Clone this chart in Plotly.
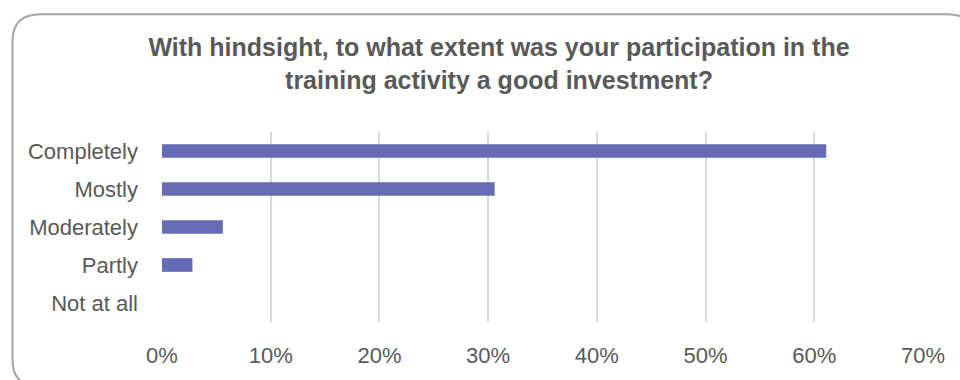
import plotly.graph_objects as go

# Survey responses (share of respondents)
categories = ["Completely", "Mostly", "Moderately", "Partly", "Not at all"]
shares = [0.611, 0.306, 0.056, 0.028, 0.0]
x_ticks = [0, 0.1, 0.2, 0.3, 0.4, 0.5, 0.6, 0.7]
x_tick_labels = ["0%", "10%", "20%", "30%", "40%", "50%", "60%", "70%"]
title_text = ("With hindsight, to what extent was your participation in the<br>"
              "training activity a good investment?")

W, H = 960, 380
L, R, T, B = 162, 37, 132, 52
pw, ph = W - L - R, H - T - B

FONT = "Liberation Sans, Arial, sans-serif"
TEXT = "#595959"


def px(x):
    return (x - L) / pw


def py(y):
    return (H - B - y) / ph


# rounded frame around the chart, extending past the bottom/right edges
x0, x1, y0, y1, r = 12.5, 975, 10.5, 395, 28
frame = (
    f"M {px(x0 + r)},{py(y0)} L {px(x1 - r)},{py(y0)} "
    f"Q {px(x1)},{py(y0)} {px(x1)},{py(y0 + r)} "
    f"L {px(x1)},{py(y1 - r)} Q {px(x1)},{py(y1)} {px(x1 - r)},{py(y1)} "
    f"L {px(x0 + r)},{py(y1)} Q {px(x0)},{py(y1)} {px(x0)},{py(y1 - r)} "
    f"L {px(x0)},{py(y0 + r)} Q {px(x0)},{py(y0)} {px(x0 + r)},{py(y0)} Z"
)

fig = go.Figure(
    go.Bar(
        x=shares,
        y=categories,
        orientation="h",
        width=0.36,
        marker=dict(color="#666BB5", line=dict(width=0)),
        hoverinfo="x+y",
    )
)

fig.update_layout(
    width=W,
    height=H,
    margin=dict(l=L, r=R, t=T, b=B, pad=0),
    paper_bgcolor="white",
    plot_bgcolor="white",
    showlegend=False,
    font=dict(family=FONT, color=TEXT, size=22),
    title=dict(
        text=f"<b>{title_text}</b>",
        x=499 / W,
        xanchor="center",
        y=1 - 56 / H,
        yanchor="top",
        font=dict(family=FONT, size=25, color=TEXT),
    ),
    xaxis=dict(
        range=[0, 0.7],
        tickvals=x_ticks,
        ticktext=x_tick_labels,
        showgrid=True,
        gridcolor="#D9D9D9",
        gridwidth=2,
        zeroline=False,
        showline=False,
        ticks="",
        ticklabelstandoff=18,
        tickfont=dict(size=22, color=TEXT),
        fixedrange=True,
    ),
    yaxis=dict(
        categoryorder="array",
        categoryarray=categories[::-1],
        showgrid=False,
        zeroline=False,
        showline=False,
        ticks="",
        ticklabelstandoff=23,
        tickfont=dict(size=22, color=TEXT),
        fixedrange=True,
    ),
    shapes=[
        dict(
            type="path",
            xref="paper",
            yref="paper",
            path=frame,
            line=dict(color="#A6A6A6", width=2),
            fillcolor="rgba(0,0,0,0)",
            layer="below",
        )
    ],
)

fig.write_html("out.html")
